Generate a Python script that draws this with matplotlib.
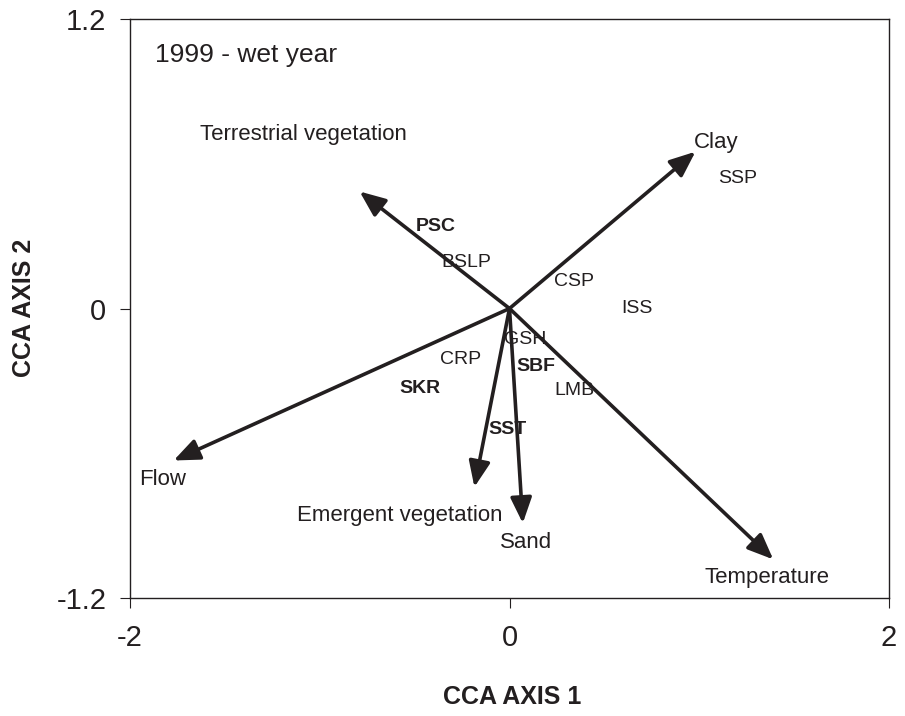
import matplotlib
matplotlib.use("Agg")
import matplotlib.pyplot as plt

plt.rcParams['font.family'] = ['Liberation Sans', 'DejaVu Sans']

INK = '#231f20'

# environmental vectors (arrow tips) and where their labels sit
env_names = ['Clay', 'Terrestrial vegetation', 'Flow', 'Emergent vegetation', 'Sand', 'Temperature']
env_x = [0.98, -0.79, -1.77, -0.185, 0.07, 1.39]
env_y = [0.65, 0.485, -0.63, -0.74, -0.89, -1.04]
env_lab_x = [1.09, -1.085, -1.83, -0.58, 0.085, 1.355]
env_lab_y = [0.69, 0.72, -0.71, -0.86, -0.97, -1.115]

# species scores
sp_names = ['PSC', 'BSLP', 'CSP', 'ISS', 'SSP', 'GSH', 'CRP', 'SBF', 'SKR', 'LMB', 'SST']
sp_x = [-0.39, -0.23, 0.34, 0.67, 1.20, 0.085, -0.26, 0.14, -0.47, 0.34, -0.01]
sp_y = [0.34, 0.19, 0.11, 0.0, 0.54, -0.13, -0.21, -0.24, -0.33, -0.34, -0.50]
sp_bold = ['PSC', 'SBF', 'SKR', 'SST']

x_ticks = [-2, 0, 2]
y_ticks = [-1.2, 0, 1.2]

fig = plt.figure(figsize=(9.05, 7.16), dpi=100)
ax = fig.add_axes([130 / 905, 1 - 598 / 716, (889 - 130) / 905, (598 - 19) / 716])
ax.set_xlim(-2, 2)
ax.set_ylim(-1.2, 1.2)

for sp in ax.spines.values():
    sp.set_color(INK)
    sp.set_linewidth(1.0)

ax.set_xticks(x_ticks)
ax.set_xticklabels([f'{v:g}' for v in x_ticks])
ax.set_yticks(y_ticks)
ax.set_yticklabels([f'{v:g}' for v in y_ticks])
ax.tick_params(direction='out', length=7, width=0.8, color=INK,
               labelsize=21, labelcolor=INK)
ax.tick_params(axis='x', pad=12)
ax.tick_params(axis='y', pad=10)

# arrows from origin
for name, x, y, lx, ly in zip(env_names, env_x, env_y, env_lab_x, env_lab_y):
    ax.annotate('', xy=(x, y), xytext=(0, 0),
                arrowprops=dict(arrowstyle='-|>,head_length=0.6,head_width=0.25',
                                color=INK, lw=2.6, mutation_scale=26,
                                shrinkA=0, shrinkB=0))
    ax.text(lx, ly, name, fontsize=16, color=INK, ha='center', va='center')

for name, x, y in zip(sp_names, sp_x, sp_y):
    ax.text(x, y, name, fontsize=14, color=INK, ha='center', va='center',
            fontweight='bold' if name in sp_bold else 'normal')

ax.text(-1.87, 1.05, '1999 - wet year', fontsize=19, color=INK, ha='left', va='center')

fig.text(512 / 905, 1 - 697 / 716, 'CCA AXIS 1', fontsize=18, fontweight='bold',
         color=INK, ha='center', va='center')
fig.text(24 / 905, 1 - 308 / 716, 'CCA AXIS 2', fontsize=18, fontweight='bold',
         color=INK, ha='center', va='center', rotation=90)

fig.savefig('out.png', dpi=100)
